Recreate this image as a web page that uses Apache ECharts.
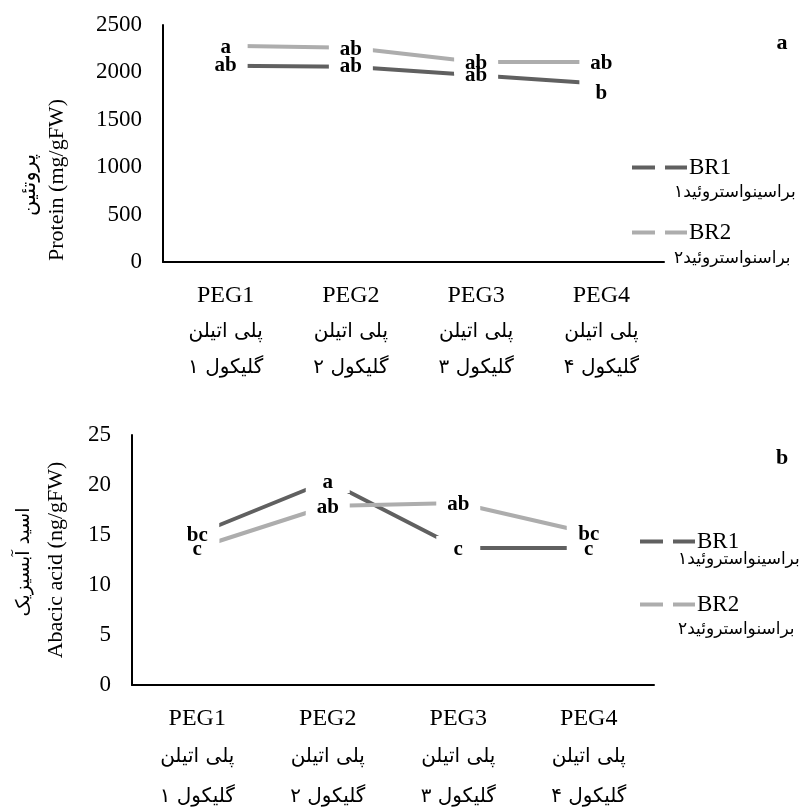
<!DOCTYPE html>
<html>
<head>
<meta charset="utf-8">
<script src="https://cdn.jsdelivr.net/npm/echarts@6/dist/echarts.min.js"></script>
<style>
  html, body { margin: 0; padding: 0; background: #fff; }
  #chart { width: 801px; height: 807px; }
</style>
</head>
<body>
<div id="chart"></div>
<script>
// categories and their Persian sub-lines
const categories = ['PEG1', 'PEG2', 'PEG3', 'PEG4'];
const categoriesFa1 = ['پلی اتیلن', 'پلی اتیلن', 'پلی اتیلن', 'پلی اتیلن'];
const categoriesFa2 = ['گلیکول ۱', 'گلیکول ۲', 'گلیکول ۳', 'گلیکول ۴'];

const seriesNames = ['BR1', 'BR2'];
const seriesNamesFa = ['براسینواستروئید۱', 'براسنواستروئید۲'];

// panel a: protein
const proteinBR1 = [2070, 2060, 1970, 1880];
const proteinBR2 = [2280, 2260, 2110, 2110];
const proteinLetters1 = ['ab', 'ab', 'ab', 'b'];
const proteinLetters2 = ['a', 'ab', 'ab', 'ab'];

// panel b: abscisic acid
const abaBR1 = [15.1, 20.4, 13.7, 13.7];
const abaBR2 = [13.7, 17.9, 18.2, 15.2];
const abaLetters1 = ['bc', 'a', 'c', 'c'];
const abaLetters2 = ['c', 'ab', 'ab', 'bc'];

const darkGray = '#606060';
const lightGray = '#adadad';
const serif = "'Liberation Serif', 'DejaVu Serif', serif";
const farsi = "'DejaVu Sans', sans-serif";

const chart = echarts.init(document.getElementById('chart'), null, { renderer: 'canvas' });

function xAxisFor(grid, faGap) {
  return {
    type: 'category',
    gridIndex: grid,
    data: categories,
    axisLine: { lineStyle: { color: '#000', width: 2 } },
    axisTick: { show: false },
    axisLabel: {
      margin: 16,
      interval: 0,
      formatter: (v, i) => '{en|' + v + '}\n{fa|' + categoriesFa1[i] + '}\n{fa|' + categoriesFa2[i] + '}',
      rich: {
        en: { fontFamily: serif, fontSize: 24, color: '#000', lineHeight: 36 },
        fa: { fontFamily: farsi, fontSize: 20, color: '#000', lineHeight: faGap },
      },
    },
  };
}

function yAxisFor(grid, max, interval) {
  return {
    type: 'value',
    gridIndex: grid,
    min: 0,
    max: max,
    interval: interval,
    axisLine: { show: true, lineStyle: { color: '#000', width: 2 } },
    axisTick: { show: false },
    splitLine: { show: false },
    axisLabel: {
      margin: 21,
      fontFamily: serif,
      fontSize: 23,
      color: '#000',
      formatter: (v) => String(v),
    },
  };
}

function lineSeries(name, values, letters, axis, color, shift) {
  return {
    name: name,
    type: 'line',
    xAxisIndex: axis,
    yAxisIndex: axis,
    data: values,
    symbol: 'rect',
    symbolSize: [44, 24],
    itemStyle: { color: '#fff', borderWidth: 0 },
    lineStyle: { color: color, width: 4 },
    label: {
      show: true,
      position: 'inside',
      offset: [0, 2],
      formatter: (p) => letters[p.dataIndex],
      fontFamily: serif,
      fontWeight: 'bold',
      fontSize: 21,
      color: '#000',
    },
    labelLayout: shift ? (p) => (p.dataIndex === shift.index ? { dy: shift.dy } : {}) : undefined,
    emphasis: { disabled: true },
  };
}

function legendFor(left, top, gap) {
  return {
    orient: 'vertical',
    left: left,
    top: top,
    itemWidth: 55,
    itemHeight: 4,
    itemGap: gap,
    selectedMode: false,
    icon: 'path://M0,0H23V4H0Z M33,0H55V4H33Z',
    textStyle: { fontFamily: serif, fontSize: 23, color: '#000', padding: [0, 0, 0, -3] },
    data: [
      { name: seriesNames[0], itemStyle: { color: darkGray } },
      { name: seriesNames[1], itemStyle: { color: lightGray } },
    ],
  };
}

function txt(text, x, y, font, align, rotation) {
  return {
    type: 'text', x: x, y: y, rotation: rotation || 0,
    style: { text: text, font: font, fill: '#000', align: align || 'center', verticalAlign: 'middle' },
  };
}

const up = Math.PI / 2;

chart.setOption({
  animation: false,
  backgroundColor: '#fff',
  grid: [
    { left: 163, top: 25, width: 501, height: 237 },
    { left: 132, top: 435, width: 522, height: 250 },
  ],
  xAxis: [xAxisFor(0, 36), xAxisFor(1, 40)],
  yAxis: [yAxisFor(0, 2500, 500), yAxisFor(1, 25, 5)],
  legend: [legendFor(627, 151, 42), legendFor(635, 525, 40)],
  series: [
    lineSeries(seriesNames[0], proteinBR1, proteinLetters1, 0, darkGray, { index: 3, dy: 10 }),
    lineSeries(seriesNames[1], proteinBR2, proteinLetters2, 0, lightGray),
    lineSeries(seriesNames[0], abaBR1, abaLetters1, 1, darkGray),
    lineSeries(seriesNames[1], abaBR2, abaLetters2, 1, lightGray),
  ],
  graphic: [
    txt('Protein (mg/gFW)', 57, 180, '22px ' + serif, 'center', up),
    txt('پروتئین', 30, 185, '21px ' + farsi, 'center', up),
    txt('Abacic acid (ng/gFW)', 56, 560, '22px ' + serif, 'center', up),
    txt('اسید آبسیزیک', 24, 562, '19px ' + farsi, 'center', up),
    txt('a', 782, 43, 'bold 22px ' + serif),
    txt('b', 782, 458, 'bold 22px ' + serif),
    txt(seriesNamesFa[0], 674, 193, '17px ' + farsi, 'left'),
    txt(seriesNamesFa[1], 674, 259, '17px ' + farsi, 'left'),
    txt(seriesNamesFa[0], 678, 560, '17px ' + farsi, 'left'),
    txt(seriesNamesFa[1], 678, 630, '17px ' + farsi, 'left'),
  ],
});
</script>
</body>
</html>
